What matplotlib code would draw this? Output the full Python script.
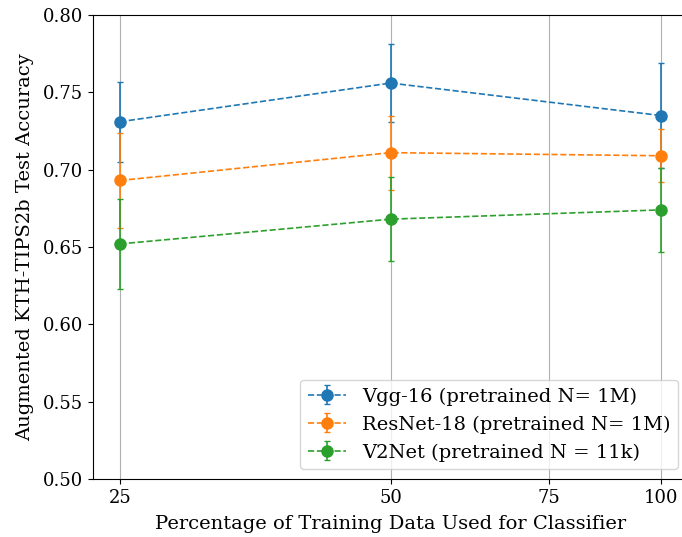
import numpy as np
import matplotlib
matplotlib.use("Agg")
import matplotlib.pyplot as plt
from matplotlib.ticker import ScalarFormatter, NullLocator

plt.rcParams['font.family'] = 'DejaVu Serif'

# percentage of training data used for classifier
pct = [25, 50, 100]

vgg_acc = [0.731, 0.756, 0.735]
vgg_err = [0.026, 0.025, 0.034]

resnet_acc = [0.693, 0.711, 0.709]
resnet_err = [0.031, 0.024, 0.017]

v2net_acc = [0.652, 0.668, 0.674]
v2net_err = [0.029, 0.027, 0.027]

labels = ["Vgg-16 (pretrained N= 1M)",
          "ResNet-18 (pretrained N= 1M)",
          "V2Net (pretrained N = 11k)"]

fig = plt.figure(figsize=(6.82, 5.37), dpi=100)
ax = fig.add_axes([93/682, 58/537, 595/682, 464/537])

for acc, err, lab in zip([vgg_acc, resnet_acc, v2net_acc],
                         [vgg_err, resnet_err, v2net_err], labels):
    ax.errorbar(pct, acc, yerr=err, fmt='o--', markersize=8, capsize=2,
                linewidth=1.2, label=lab)

ax.set_xscale('log')
ax.set_xticks([25, 50, 75, 100])
ax.xaxis.set_major_formatter(ScalarFormatter())
ax.xaxis.set_minor_locator(NullLocator())
ax.set_ylim(0.50, 0.80)
ax.grid(axis='x')

ax.tick_params(labelsize=13)
ax.set_xlabel("Percentage of Training Data Used for Classifier", fontsize=14, labelpad=6)
ax.set_ylabel("Augmented KTH-TIPS2b Test Accuracy", fontsize=14, labelpad=6)
ax.legend(loc='lower right', fontsize=14)

fig.savefig("out.png", dpi=100)
